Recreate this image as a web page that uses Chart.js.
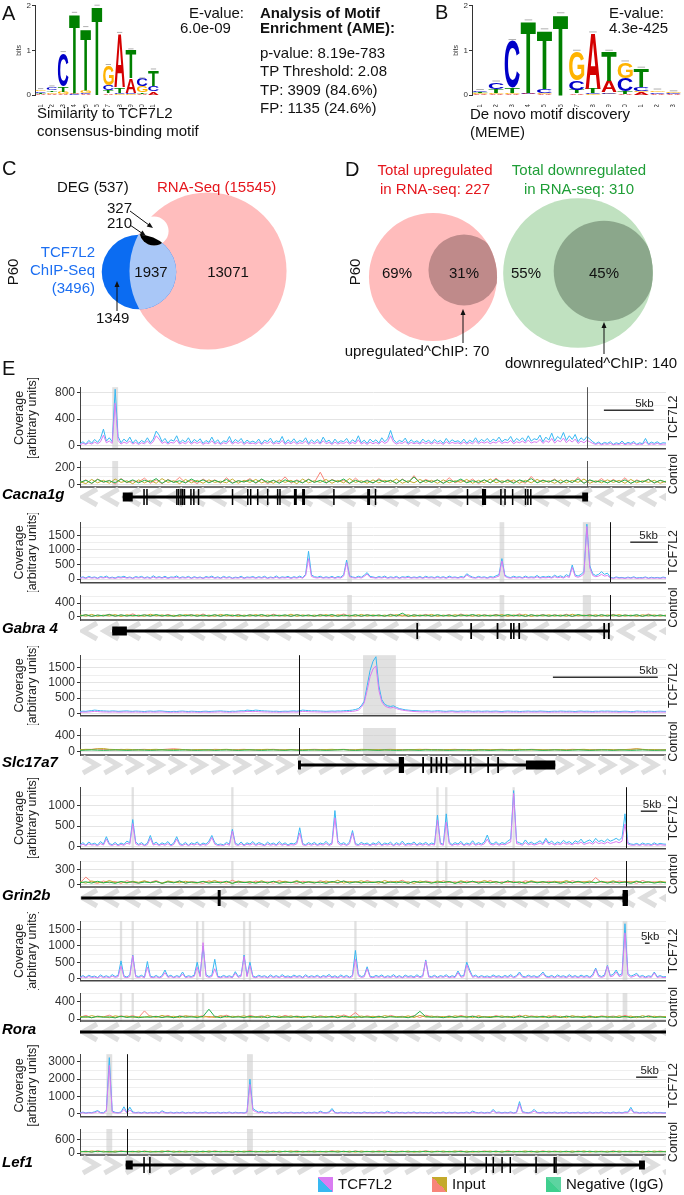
<!DOCTYPE html>
<html>
<head>
<meta charset="utf-8">
<script src="https://cdn.jsdelivr.net/npm/chart.js@4.4.0/dist/chart.umd.min.js"></script>
<style>
body { margin:0; background:#fff; width:684px; height:1195px; position:relative; overflow:hidden;
       font-family:"Liberation Sans", Arial, Helvetica, sans-serif; color:#111; }
.t { position:absolute; white-space:nowrap; line-height:1; }
canvas { position:absolute; }
</style>
</head>
<body>
<script>
// ---------- motif logos (bits per letter, bottom to top) ----------
var posA = ['1','2','3','4','5','6','7','8','9','10','11'];
var motifA = [
  [['A',0.02],['T',0.03],['C',0.03],['G',0.03]],
  [['A',0.03],['G',0.04],['T',0.04],['C',0.06]],
  [['A',0.02],['G',0.05],['T',0.12],['C',0.75]],
  [['C',0.02],['A',0.02],['T',1.78]],
  [['A',0.02],['C',0.03],['G',0.07],['T',1.38]],
  [['T',1.98]],
  [['A',0.04],['T',0.06],['C',0.12],['G',0.43]],
  [['G',0.02],['C',0.03],['T',0.12],['A',1.2]],
  [['G',0.02],['C',0.02],['A',0.33],['T',0.63]],
  [['A',0.03],['T',0.03],['G',0.13],['C',0.16]],
  [['A',0.08],['C',0.12],['T',0.35]]
];
var posB = ['1','2','3','4','5','6','7','8','9','10','11','12','13'];
var motifB = [
  [['A',0.02],['G',0.02],['T',0.02],['C',0.03]],
  [['A',0.02],['G',0.03],['T',0.08],['C',0.15]],
  [['A',0.02],['G',0.02],['T',0.12],['C',1.05]],
  [['C',0.03],['A',0.02],['T',1.6]],
  [['A',0.02],['G',0.03],['C',0.08],['T',1.32]],
  [['A',0.01],['T',1.8]],
  [['A',0.04],['T',0.08],['C',0.2],['G',0.65]],
  [['G',0.02],['C',0.02],['T',0.1],['A',1.24]],
  [['G',0.03],['C',0.03],['A',0.25],['T',0.66]],
  [['A',0.03],['T',0.05],['C',0.3],['G',0.35]],
  [['A',0.06],['G',0.03],['C',0.1],['T',0.4]],
  [['A',0.03],['C',0.03],['G',0.04]],
  [['A',0.02],['C',0.02],['G',0.02]]
];

// ---------- venn diagrams ----------
var vennCCounts = [15545, 3496, 537];          // RNA-Seq, ChIP-Seq, DEG
var vennCCenters = [[208,271],[139,272],[154,231]];
var vennDCounts = [227, 70, 310, 140];         // up, up^ChIP, down, down^ChIP
var vennDCenters = [[433,277],[464,270],[578,273],[604,271]];

// ---------- coverage tracks: TCF7L2 every 0.5 % of region, controls every 1 % ----------
var cacna1gTcf1 = [
  30,60,25,80,40,95,50,110,250,70,120,60,850,140,45,100,60,130,40,90,
  35,80,50,120,45,100,220,160,60,110,40,90,70,150,45,85,55,120,40,95,
  60,105,35,80,50,130,45,90,30,75,55,140,40,95,60,110,35,85,50,70,
  45,100,30,85,60,115,40,75,55,140,35,90,50,105,45,80,60,120,35,90,
  50,95,40,130,55,85,30,100,45,75,60,110,40,90,55,150,45,85,35,100,
  55,90,40,120,60,105,230,95,45,80,60,115,35,90,50,75,40,100,55,85,
  40,95,55,80,35,110,50,90,60,75,45,100,40,85,55,120,50,95,65,110,
  55,100,70,130,60,95,80,140,55,110,75,120,65,150,70,105,90,160,60,130,
  85,190,70,140,100,200,80,150,95,170,60,120,80,140,100,60,30,55,25,50,
  35,60,20,45,30,70,25,50,35,65,20,45,30,110,25,55,35,60,30,45,
  40];
var cacna1gTcf2 = [
  15,35,20,45,25,55,30,60,160,45,70,35,640,80,25,55,35,70,25,50,
  20,45,30,70,25,60,150,100,35,60,25,50,40,85,25,50,30,65,25,55,
  35,60,20,45,30,75,25,50,20,45,30,80,25,55,35,60,20,50,30,40,
  25,55,20,50,35,65,25,45,30,80,20,50,30,60,25,45,35,70,20,50,
  30,55,25,75,30,50,20,55,25,45,35,60,25,50,30,90,25,50,20,55,
  30,50,25,70,35,60,150,55,25,45,35,65,20,50,30,45,25,55,30,50,
  25,55,30,45,20,60,30,50,35,45,25,55,25,50,30,70,30,55,40,60,
  30,55,40,75,35,55,45,80,30,60,45,70,40,85,40,60,50,95,35,75,
  50,110,40,80,60,115,45,90,55,100,35,70,45,80,60,35,20,35,15,30,
  20,35,15,25,20,40,15,30,20,40,15,25,20,60,15,30,20,35,20,25,
  25];
var cacna1gInput1 = [
  20,60,15,70,30,55,10,75,25,50, 35,80,20,60,15,65,30,90,25,55,
  15,70,30,60,20,85,25,50,35,75, 20,65,15,55,30,95,20,60,25,70,
  30,150,20,65,35,55,15,80,25,60, 20,75,30,55,15,70,25,110,20,65,
  35,60,20,85,25,55,30,70,15,60, 25,80,20,65,30,55,20,100,25,60,
  30,70,15,60,25,90,20,55,30,75, 20,65,25,85,15,60,30,70,20,55, 30];
var cacna1gInput2 = [
  40,15,65,25,55,20,70,30,50,15, 60,25,55,20,75,30,50,15,65,25,
  55,20,60,30,45,25,70,20,55,30, 65,25,50,20,60,30,55,15,70,25,
  50,30,65,20,55,25,75,30,50,20, 60,25,55,30,70,20,50,25,65,30,
  55,20,60,25,50,30,65,20,55,25, 70,25,50,30,60,20,55,25,65,30,
  50,20,60,25,55,30,70,20,50,25, 60,30,55,20,65,25,50,30,55,20, 45];
var cacna1gIgG = [
  30,55,20,65,35,50,25,70,30,60, 25,55,35,75,20,60,30,50,25,70,
  35,60,25,55,30,65,20,50,35,60, 25,70,30,55,20,60,35,50,25,65,
  30,55,25,60,35,70,20,55,30,50, 25,60,35,55,20,65,30,95,25,55,
  30,60,20,55,35,70,25,50,30,60, 25,65,30,55,20,60,35,75,25,55,
  35,60,25,55,30,70,20,60,35,50, 25,55,30,60,20,50,35,65,25,55, 35];

var gabra4Tcf1 = [
  40,75,35,90,50,70,30,85,55,100,40,65,35,80,60,95,45,70,30,85,
  55,90,40,75,35,110,50,80,45,95,35,70,60,105,40,75,50,90,35,80,
  45,70,30,85,55,100,40,75,35,90,50,80,30,65,45,95,35,70,55,85,
  40,80,50,95,35,70,45,105,40,75,55,90,35,80,50,100,45,160,950,140,
  80,60,95,45,75,50,90,40,85,60,150,650,110,70,50,95,60,130,220,90,
  70,45,85,55,100,40,75,50,90,35,80,60,95,45,70,50,85,40,95,55,
  75,45,90,50,80,40,100,55,70,45,85,60,180,110,65,45,90,55,75,40,
  85,60,110,150,700,130,70,50,95,60,80,45,100,55,75,60,120,50,85,65,
  95,55,130,70,110,60,150,90,480,140,100,160,250,1880,450,180,120,160,250,160,
  200,60,35,70,45,55,30,65,40,75,35,50,45,70,30,60,40,55,35,65,
  45];
var gabra4Tcf2 = [
  25,45,20,55,30,45,20,50,35,60,25,40,20,50,35,55,30,45,20,50,
  35,55,25,45,20,65,30,50,30,55,20,45,35,60,25,45,30,55,20,50,
  30,45,20,50,35,60,25,45,20,55,30,50,20,40,30,55,20,45,35,50,
  25,50,30,55,20,45,30,60,25,45,35,55,20,50,30,60,30,120,700,90,
  50,35,55,30,45,30,55,25,50,35,100,560,80,45,30,55,35,90,170,55,
  45,30,50,35,60,25,45,30,55,20,50,35,55,30,45,30,50,25,55,35,
  45,30,55,30,50,25,60,35,45,30,50,35,140,70,40,30,55,35,45,25,
  50,35,65,100,620,90,45,30,55,35,50,30,60,35,45,35,75,30,50,40,
  55,35,80,45,65,35,90,55,400,90,60,100,180,1800,380,120,80,100,160,100,
  120,35,20,45,25,35,20,40,25,45,20,30,25,45,20,35,25,35,20,40,
  25];
var gabra4Input1 = [
  20,70,15,55,30,80,20,60,25,90, 15,65,30,55,20,75,25,50,35,70,
  20,85,15,60,30,55,20,75,25,65, 30,60,15,80,25,55,20,70,30,60,
  15,75,25,55,30,85,20,60,15,70, 25,60,20,80,30,55,15,65,25,75,
  20,55,30,70,15,85,25,60,20,65, 30,75,20,55,25,90,15,60,30,70,
  20,65,25,80,15,55,30,70,20,60, 25,75,15,60,30,55,20,85,25,60, 30];
var gabra4Input2 = [
  60,25,75,20,55,30,70,15,65,25, 55,20,80,30,60,25,50,20,70,30,
  65,25,55,20,75,30,60,15,55,25, 70,20,60,30,55,25,80,20,60,30,
  55,25,70,15,65,30,55,20,75,25, 60,30,55,20,70,25,65,15,60,30,
  75,20,55,25,65,30,60,20,70,25, 55,30,70,20,60,25,75,15,55,30,
  65,25,60,20,80,30,55,25,65,20, 60,30,70,25,55,20,65,30,60,25, 55];
var gabra4IgG = [
  30,65,20,55,35,70,25,60,30,50, 35,60,25,70,30,55,20,65,35,60,
  25,55,30,65,20,70,35,55,25,60, 30,70,25,55,35,60,20,65,30,55,
  25,60,35,70,20,55,30,65,25,60, 35,55,25,65,30,110,20,60,35,55,
  25,65,30,55,20,60,35,70,25,55, 30,60,25,70,35,55,20,65,30,60,
  25,55,30,60,20,70,35,55,25,65, 30,60,25,55,35,65,20,60,30,55, 30];

var slc17a7Tcf1 = [
  65,75,70,85,95,110,100,90,85,80,75,85,80,70,75,80,85,75,70,80,
  75,70,65,75,80,70,75,85,80,70,65,60,70,65,75,80,70,65,75,70,
  65,60,70,75,65,70,75,80,85,75,70,65,75,70,80,90,85,110,100,95,
  110,100,90,85,80,75,70,75,65,70,75,70,80,85,75,90,110,100,95,85,
  90,85,80,75,70,75,80,75,85,80,90,95,100,110,130,160,250,400,900,1400,
  1700,1850,900,450,300,250,230,250,200,160,140,120,110,100,95,90,85,80,90,85,
  75,80,90,85,75,70,80,85,75,70,80,75,85,80,70,75,80,70,75,80,
  70,75,80,70,65,75,80,75,70,75,65,70,75,80,70,75,70,80,75,70,
  65,70,75,70,80,75,70,75,70,65,75,80,70,75,70,65,75,70,80,75,
  80,75,70,75,65,70,75,70,60,65,80,75,70,65,75,70,65,70,75,70,
  70];
var slc17a7Tcf2 = [
  40,45,45,50,60,70,65,55,50,50,45,50,50,45,45,50,50,45,45,50,
  45,45,40,45,50,45,45,50,50,45,40,40,45,40,45,50,45,40,45,45,
  40,40,45,45,40,45,45,50,55,45,45,40,45,45,50,55,55,70,65,60,
  65,60,55,50,50,45,45,45,40,45,45,45,50,50,45,55,70,65,60,55,
  55,50,50,45,45,45,50,45,50,50,55,60,65,70,85,110,200,350,750,1200,
  1450,1550,750,380,250,200,180,200,160,130,110,95,85,75,65,60,55,50,55,55,
  45,50,55,50,45,45,50,55,45,45,50,45,50,50,45,45,50,45,45,50,
  45,45,50,45,40,45,50,45,45,45,40,45,45,50,45,45,45,50,45,45,
  40,45,45,45,50,45,45,45,45,40,45,50,45,45,45,40,45,45,50,45,
  50,45,45,45,40,45,45,45,40,40,50,45,45,40,45,45,40,45,45,45,
  45];
var slc17a7Input1 = [
  40,55,60,70,55,50,45,60,50,45, 55,60,50,45,55,65,75,60,50,45,
  50,55,45,60,55,50,45,55,60,50, 45,50,55,60,50,45,55,50,45,55,
  60,55,50,45,55,60,50,45,50,55, 50,45,55,60,50,55,45,50,55,60,
  55,50,45,55,60,50,55,45,50,55, 45,55,60,50,45,55,50,60,55,45,
  50,55,45,50,60,55,50,45,55,50, 55,45,50,55,60,70,55,50,45,50, 45];
var slc17a7Input2 = [
  50,60,55,75,80,60,55,50,60,55, 45,50,55,60,50,45,55,60,50,45,
  55,50,45,50,55,60,50,45,55,50, 50,55,60,50,45,50,55,45,50,55,
  45,50,55,60,50,55,45,50,60,55, 50,55,45,50,55,45,50,55,60,50,
  55,45,50,55,50,45,55,50,45,55, 50,55,45,50,55,60,50,45,55,50,
  45,50,55,45,50,55,60,50,45,50, 55,50,45,55,60,75,60,50,55,45, 50];
var slc17a7IgG = [
  35,40,45,40,35,40,45,40,35,40, 45,40,35,40,45,40,35,40,45,40,
  35,40,45,35,40,45,40,35,40,45, 40,35,40,45,40,35,45,40,35,40,
  45,40,35,40,45,50,40,35,40,45, 40,35,45,40,35,40,45,40,35,45,
  40,45,40,35,40,45,40,35,45,40, 35,40,45,40,35,40,45,50,40,35,
  40,45,40,35,40,45,40,35,40,45, 40,35,45,40,35,40,45,40,35,40, 40];

var grin2bTcf1 = [
  40,95,30,110,55,80,35,120,60,240,70,45,100,35,85,50,130,90,660,110,
  50,95,35,80,270,60,105,40,90,55,120,35,85,240,70,45,100,30,90,60,
  110,40,85,55,130,270,95,45,60,40,100,55,420,80,45,110,35,90,60,120,
  45,95,70,35,105,55,85,40,120,50,90,35,80,60,110,460,70,40,95,55,
  100,40,85,60,125,45,90,880,140,55,95,40,110,390,70,45,100,60,85,35,
  90,55,120,40,85,60,105,35,95,50,130,45,80,60,110,40,90,55,100,45,
  85,60,770,90,50,800,110,45,95,60,125,40,85,55,140,50,95,60,110,280,
  90,60,115,50,95,70,130,180,1370,120,90,55,160,70,110,60,95,140,75,200,
  85,130,60,110,75,150,90,120,65,140,100,180,85,130,160,95,200,120,150,110,
  180,130,160,200,150,220,800,90,60,50,75,40,85,55,70,45,90,50,75,60,
  55];
var grin2bTcf2 = [
  25,55,20,65,35,45,20,70,35,180,45,25,60,20,50,30,80,55,560,65,
  30,55,20,45,200,35,60,25,55,30,70,20,50,180,40,25,60,20,55,35,
  65,25,50,30,80,220,55,25,35,25,60,30,380,45,25,65,20,55,35,70,
  25,55,40,20,60,30,50,25,70,30,55,20,45,35,65,330,40,25,55,30,
  60,25,50,35,75,25,55,700,80,30,55,25,65,330,40,25,60,35,50,20,
  55,30,70,25,50,35,60,20,55,30,75,25,45,35,65,25,55,30,60,25,
  50,35,650,55,30,600,65,25,55,35,75,25,50,30,80,30,55,35,65,180,
  55,35,70,30,55,40,80,110,1300,70,55,30,95,40,65,35,55,85,45,150,
  50,75,35,65,45,90,55,70,40,85,60,110,50,75,95,55,120,70,90,65,
  110,75,95,120,90,130,550,55,35,30,45,25,50,30,40,25,55,30,45,35,
  30];
var grin2bInput1 = [
  40,150,55,30,75,40,65,30,80,45, 35,70,50,85,30,60,45,75,35,65,
  50,30,80,45,65,35,90,40,60,30, 75,45,60,35,85,40,55,30,70,50,
  35,80,45,65,30,75,50,60,35,85, 45,60,30,70,50,90,35,65,40,75,
  55,35,80,45,60,30,75,50,65,40, 85,35,60,45,70,30,80,50,55,40,
  70,45,65,30,80,50,60,35,140,45, 60,35,75,50,65,30,85,45,60,40, 55];
var grin2bInput2 = [
  60,35,75,50,40,85,45,60,35,70, 50,80,40,65,35,75,55,40,70,45,
  35,70,50,85,40,60,30,75,45,65, 40,80,35,65,50,70,40,85,35,60,
  55,40,75,45,90,35,65,50,80,40, 60,35,85,45,70,40,60,30,75,50,
  40,75,50,65,35,80,45,70,40,85, 50,65,35,75,45,60,40,80,50,65,
  35,70,45,85,40,60,55,75,35,70, 45,80,40,65,50,75,35,60,45,70, 50];
var grin2bIgG = [
  45,60,35,70,40,55,30,65,45,60, 35,55,45,65,30,60,40,75,35,55,
  45,65,35,55,40,70,30,60,45,55, 35,60,40,70,30,55,45,65,35,60,
  40,55,30,65,45,75,35,60,40,55, 45,65,35,55,40,60,30,70,45,60,
  35,55,45,65,30,60,40,70,35,55, 40,60,35,75,45,55,30,65,40,60,
  45,55,30,60,40,70,35,55,45,65, 35,60,40,55,30,65,45,60,35,55, 40];

var roraTcf1 = [
  40,90,35,100,55,75,30,110,50,85,40,120,60,95,540,80,45,110,720,90,
  55,100,40,520,70,45,95,35,85,260,60,100,40,90,55,200,45,85,60,105,
  500,90,1000,120,60,100,590,70,45,95,55,85,40,210,65,110,720,90,500,75,
  45,100,60,85,35,110,50,90,40,120,55,80,45,105,60,90,35,115,50,85,
  55,100,40,90,60,125,45,85,35,110,55,95,40,100,860,130,60,85,360,70,
  45,95,60,110,40,85,55,120,45,90,35,105,60,85,45,115,50,95,570,80,
  55,100,40,90,60,115,45,85,55,230,70,95,500,260,60,105,45,90,55,80,
  45,110,60,85,40,95,55,120,45,90,200,70,50,105,60,85,45,100,200,75,
  55,95,40,110,60,85,45,120,55,90,40,105,60,95,45,130,320,100,60,110,
  400,90,130,260,100,150,1680,160,70,110,160,60,95,45,85,60,200,55,90,50,
  60];
var roraTcf2 = [
  20,55,20,60,30,45,20,65,30,50,25,70,35,55,380,45,25,60,700,50,
  30,60,25,350,40,25,55,20,50,180,35,60,25,55,30,140,25,50,35,65,
  350,50,1100,70,35,60,300,40,25,55,30,50,25,160,35,65,680,55,400,45,
  25,60,35,50,20,65,30,55,25,70,30,45,25,60,35,55,20,70,30,50,
  35,60,25,55,35,75,25,50,20,65,30,55,25,60,600,80,35,50,300,40,
  25,55,35,65,25,50,30,70,25,55,20,60,35,50,25,70,30,55,540,45,
  30,60,25,55,35,70,25,50,30,180,40,55,420,200,35,65,25,55,30,45,
  25,65,35,50,25,55,30,70,25,55,150,40,30,60,35,50,25,60,150,45,
  30,55,25,65,35,50,25,70,30,55,25,60,35,55,25,75,280,60,35,65,
  380,55,80,200,60,90,1400,110,40,65,110,35,55,25,50,35,170,30,55,30,
  35];
var roraInput1 = [
  40,85,30,70,50,90,35,75,45,80, 35,190,50,65,40,85,30,75,55,70,
  45,80,35,65,50,90,40,70,30,85, 50,75,40,60,35,85,45,70,50,65,
  35,80,45,70,40,95,50,150,35,75, 45,70,30,85,50,65,40,80,35,90,
  50,65,40,75,35,85,45,70,50,60, 35,80,45,65,40,90,30,75,50,70,
  45,85,35,70,50,65,40,80,35,75, 50,70,40,85,45,60,35,80,50,65, 45];
var roraInput2 = [
  65,35,80,45,60,30,75,50,70,40, 55,40,75,35,85,45,65,30,80,50,
  70,45,60,35,80,40,65,50,75,35, 60,30,85,45,70,40,75,35,65,50,
  75,40,65,35,80,45,60,30,70,45, 65,35,80,50,60,40,75,35,85,45,
  70,40,60,35,75,50,65,30,80,40, 60,45,75,35,70,40,85,50,65,35,
  75,40,65,30,80,45,70,35,60,50, 65,35,75,45,70,30,80,40,65,45, 60];
var roraIgG = [
  35,55,30,60,40,50,25,65,35,55, 30,50,40,60,35,55,30,65,40,50,
  35,60,230,55,30,65,40,50,35,60, 40,55,30,65,35,50,40,60,30,55,
  35,50,40,60,30,65,35,55,40,50, 30,60,35,55,40,50,30,65,180,55,
  40,50,30,60,35,55,40,65,30,50, 35,60,40,55,30,65,35,50,40,60,
  30,55,35,65,40,50,30,60,35,55, 40,50,35,60,30,55,40,65,35,50, 35];

var lef1Tcf1 = [
  50,90,40,75,60,110,180,70,55,200,3250,150,80,60,95,400,70,380,100,65,
  85,50,100,45,80,60,95,40,170,75,55,90,45,85,60,100,40,80,55,95,
  50,85,60,100,40,75,55,90,45,80,60,95,40,85,55,70,45,110,2000,300,
  180,90,150,60,95,45,80,55,100,40,85,60,90,45,75,55,100,40,85,60,
  95,45,150,70,55,100,300,80,45,90,60,85,40,95,55,75,45,100,60,80,
  45,90,60,100,55,150,70,45,95,60,80,40,90,55,100,45,85,60,75,50,
  95,40,80,60,100,45,85,55,90,40,75,60,95,45,150,80,55,90,45,80,
  60,250,70,95,50,85,60,100,45,90,700,120,75,55,95,250,80,60,100,45,
  85,60,95,40,80,55,100,45,75,60,90,40,85,55,95,45,80,60,100,50,
  80,45,95,60,85,50,100,90,370,80,90,45,80,55,95,40,85,60,75,50,
  60];
var lef1Tcf2 = [
  30,55,25,45,35,65,120,40,30,130,2800,90,50,35,60,250,40,220,55,40,
  50,30,60,25,50,35,55,25,110,45,35,55,25,50,35,60,25,50,35,55,
  30,50,35,60,25,45,35,55,25,50,35,60,25,50,35,45,25,65,1700,200,
  110,55,90,35,55,25,50,35,60,25,50,35,55,25,45,35,60,25,50,35,
  55,25,90,40,35,60,200,50,25,55,35,50,25,55,35,45,25,60,35,50,
  25,55,35,60,30,90,40,25,55,35,50,25,55,35,60,25,50,35,45,30,
  55,25,50,35,60,25,50,30,55,25,45,35,55,25,90,50,30,55,25,50,
  35,160,40,55,30,50,35,60,25,55,550,70,45,30,55,150,50,35,60,25,
  50,35,55,25,50,30,60,25,45,35,55,25,50,30,55,25,50,35,60,30,
  50,25,55,35,50,30,60,55,250,50,55,25,50,30,55,25,50,35,45,30,
  35];
var lef1Input1 = [
  50,90,40,110,55,80,45,100,60,85, 45,95,55,80,40,105,50,90,45,85,
  60,80,45,100,55,90,40,85,50,110, 45,85,55,95,40,80,60,100,45,90,
  55,80,45,105,50,85,40,95,55,80, 45,100,50,85,60,90,40,80,55,105,
  50,90,45,80,55,100,40,85,50,95, 60,85,45,105,50,80,55,90,40,100,
  45,90,55,85,40,95,50,80,60,85, 50,100,45,80,55,90,40,85,50,95, 55];
var lef1Input2 = [
  80,45,95,55,85,40,90,60,80,45, 90,50,80,45,95,55,85,40,90,50,
  85,40,95,50,80,55,90,45,85,60, 80,50,90,45,85,55,95,40,80,50,
  90,45,80,55,95,50,85,40,90,55, 85,50,95,45,80,55,90,40,85,50,
  80,55,90,45,95,50,85,40,80,55, 90,45,85,50,80,55,95,45,85,50,
  85,55,80,45,90,50,95,40,85,55, 80,45,90,55,85,50,80,45,90,50, 80];
var lef1IgG = [
  55,70,45,80,50,65,45,75,55,70, 50,75,45,65,55,80,45,70,50,65,
  45,80,50,70,55,65,45,75,50,70, 55,65,45,75,50,80,45,70,55,65,
  50,70,55,65,45,75,50,80,45,70, 55,65,50,75,45,70,55,65,50,80,
  45,70,55,65,50,75,45,70,55,65, 50,80,45,70,55,65,50,75,45,70,
  55,65,50,75,45,70,55,80,50,65, 45,75,50,65,55,70,45,75,50,65, 55];

// highlighted peaks, TSS line, gene models (all in % of region)
var cacna1gBands = [[5.5,6.5]];
var gabra4Bands = [[45.6,46.4],[71.6,72.4],[85.8,87.2]];
var slc17a7Bands = [[48.3,53.9]];
var grin2bBands = [[8.8,9.2],[25.8,26.2],[60.8,61.2],[62.3,62.7],[73.8,74.2]];
var roraBands = [[6.8,7.2],[8.8,9.2],[19.8,20.2],[20.8,21.2],[27.8,28.2],[28.8,29.2],[46.8,47.2],[65.8,66.2],[89.8,90.2],[92.6,93.4]];
var lef1Bands = [[4.5,5.5],[28.5,29.5]];
var tssPos = [86.5, 90.4, 37.4, 93.2, null, 8.0];

var cacna1gSpan = [7.3, 86.7];
var cacna1gUtr = [[7.3,9.0],[85.7,86.7]];
var cacna1gExons = [[10.8,11.0],[11.3,11.5],[16.4,16.6],[16.7,16.9],[17.1,17.3],[17.4,17.6],[17.7,17.9],
  [18.8,19.0],[19.3,19.5],[20.1,20.3],[25.9,26.1],[28.5,28.7],[29.0,29.2],[30.2,30.4],[31.9,32.1],
  [33.6,33.8],[34.0,34.2],[36.5,37.0],[37.9,38.4],[43.2,43.4],[49.0,49.5],[50.3,50.5],[66.0,66.2],
  [68.6,69.3],[71.7,71.9],[72.4,72.6],[73.7,73.9],[75.9,76.1],[76.3,76.5],[76.8,77.0]];
var gabra4Span = [5.5, 90.4];
var gabra4Utr = [[5.5,8.0]];
var gabra4Exons = [[57.4,57.7],[66.6,66.9],[71.1,71.4],[73.4,73.7],[73.9,74.1],[74.8,75.1],[89.3,89.6],[90.1,90.4]];
var slc17a7Span = [37.4, 81.1];
var slc17a7Utr = [[37.2,37.7],[76.1,81.1]];
var slc17a7Exons = [[54.4,55.3],[58.4,58.7],[59.8,60.1],[60.7,61.0],[61.5,61.8],[62.4,62.7],[65.6,65.9],[66.5,66.8],[69.5,69.8],[71.2,71.5]];
var grin2bSpan = [0.2, 93.5];
var grin2bUtr = [[92.6,93.5]];
var grin2bExons = [[23.5,24.0],[92.6,93.5]];
var roraSpan = [0, 100];
var roraUtr = [];
var roraExons = [];
var lef1Span = [7.8, 96.4];
var lef1Utr = [[7.8,9.0],[95.4,96.4]];
var lef1Exons = [[10.8,11.0],[11.8,12.0],[65.6,65.8],[69.2,69.4],[70.4,70.6],[71.9,72.1],[73.3,73.5],[77.7,77.9],[80.8,81.0],[81.1,81.3]];
var strand = [-1, -1, 1, -1, -1, 1];
var kbBar = [[89.4,97.9],[93.9,98.6],[80.7,98.6],[95.7,98.5],[96.4,97.2],[94.9,98.5]];

var geneNames = ['Cacna1g', 'Gabra 4', 'Slc17a7', 'Grin2b', 'Rora', 'Lef1'];
var tcfMin = [-46, -130, -75, -57, -70, -180];
var tcfMax = [881, 1947, 1900, 1453, 1757, 3448];
var tcfMajor = [400, 500, 500, 500, 500, 1000];
var ctrlMin = [-24, -86, -80, -40, -47, -86];
var ctrlMax = [282, 630, 587, 460, 611, 1071];
var ctrlMajor = [200, 400, 400, 300, 400, 600];

// layout (page px)
var tcfTop = [378, 513, 646, 778, 912, 1045];
var tcfBot = [458, 592, 725, 858, 990, 1126];
var ctrlTop = [461, 595, 728, 861, 993, 1129];
var ctrlBot = [487, 620, 755, 887, 1021, 1155];
var geneY = [497, 631, 765, 898, 1032, 1165];
var kbY = [23, 20, 22, 24, 22, 23];

var tracks = [
  {tcf:[cacna1gTcf1,cacna1gTcf2], ctrl:[cacna1gInput1,cacna1gInput2,cacna1gIgG], bands:cacna1gBands, span:cacna1gSpan, utr:cacna1gUtr, exons:cacna1gExons},
  {tcf:[gabra4Tcf1,gabra4Tcf2], ctrl:[gabra4Input1,gabra4Input2,gabra4IgG], bands:gabra4Bands, span:gabra4Span, utr:gabra4Utr, exons:gabra4Exons},
  {tcf:[slc17a7Tcf1,slc17a7Tcf2], ctrl:[slc17a7Input1,slc17a7Input2,slc17a7IgG], bands:slc17a7Bands, span:slc17a7Span, utr:slc17a7Utr, exons:slc17a7Exons},
  {tcf:[grin2bTcf1,grin2bTcf2], ctrl:[grin2bInput1,grin2bInput2,grin2bIgG], bands:grin2bBands, span:grin2bSpan, utr:grin2bUtr, exons:grin2bExons},
  {tcf:[roraTcf1,roraTcf2], ctrl:[roraInput1,roraInput2,roraIgG], bands:roraBands, span:roraSpan, utr:roraUtr, exons:roraExons},
  {tcf:[lef1Tcf1,lef1Tcf2], ctrl:[lef1Input1,lef1Input2,lef1IgG], bands:lef1Bands, span:lef1Span, utr:lef1Utr, exons:lef1Exons}
];

var FONT = '"Liberation Sans", Arial, Helvetica, sans-serif';
Chart.defaults.font.family = FONT;
Chart.defaults.color = '#333';

var baseColors = {A:'#d40000', C:'#0000c8', G:'#ffb300', T:'#008000'};
var colTcf1 = '#38b8f2', colTcf2 = '#d97cf2';
var colInput1 = '#f8857a', colInput2 = '#c4aa2c', colIgG = '#22b14c';

function mk(left, top, w, h) {
  var c = document.createElement('canvas');
  c.width = w; c.height = h;
  c.style.left = left + 'px'; c.style.top = top + 'px';
  c.style.width = w + 'px'; c.style.height = h + 'px';
  document.body.appendChild(c);
  return c;
}

function txt(s, x, base, size, o) {
  o = o || {};
  var d = document.createElement('div');
  d.className = 't';
  d.textContent = s;
  d.style.fontSize = size + 'px';
  d.style.top = (base - 0.846 * size) + 'px';
  if (o.align == 'center') { d.style.left = x + 'px'; d.style.transform = 'translateX(-50%)'; }
  else if (o.align == 'right') { d.style.right = (684 - x) + 'px'; }
  else d.style.left = x + 'px';
  if (o.bold) d.style.fontWeight = 'bold';
  if (o.italic) d.style.fontStyle = 'italic';
  if (o.color) d.style.color = o.color;
  document.body.appendChild(d);
}

function rtxt(s, cx, cy, size) {
  var d = document.createElement('div');
  d.className = 't';
  d.textContent = s;
  d.style.fontSize = size + 'px';
  d.style.left = cx + 'px'; d.style.top = cy + 'px';
  d.style.transform = 'translate(-50%,-50%) rotate(-90deg)';
  document.body.appendChild(d);
}

// ---------- sequence logos ----------
function drawGlyph(ctx, L, x, y, w, h, color) {
  ctx.save();
  ctx.font = 'bold 100px ' + FONT;
  var m = ctx.measureText(L);
  var gw = m.actualBoundingBoxLeft + m.actualBoundingBoxRight;
  var gh = m.actualBoundingBoxAscent + m.actualBoundingBoxDescent;
  ctx.translate(x, y);
  ctx.scale(w / gw, h / gh);
  ctx.fillStyle = color;
  ctx.textBaseline = 'alphabetic';
  ctx.fillText(L, m.actualBoundingBoxLeft, m.actualBoundingBoxAscent);
  ctx.restore();
}

var letterPlugin = {
  id: 'letters',
  afterDatasetsDraw: function(chart) {
    var ctx = chart.ctx;
    var tops = [];
    chart.data.datasets.forEach(function(ds, d) {
      var meta = chart.getDatasetMeta(d);
      meta.data.forEach(function(el, j) {
        var L = ds.letters[j];
        if (!L) return;
        var p = el.getProps(['x', 'y', 'base', 'width'], true);
        var h = p.base - p.y;
        if (h <= 0) return;
        drawGlyph(ctx, L, p.x - p.width / 2, p.y, p.width, Math.max(h, 0.8), baseColors[L]);
        tops[j] = {x: p.x, y: p.y, w: p.width};
      });
    });
    // small grey caps on each stack
    ctx.save();
    ctx.strokeStyle = '#b0b0b0';
    ctx.lineWidth = 1;
    tops.forEach(function(t) {
      if (!t) return;
      ctx.beginPath();
      ctx.moveTo(t.x - t.w * 0.25, t.y - 1.5);
      ctx.lineTo(t.x + t.w * 0.25, t.y - 1.5);
      ctx.stroke();
    });
    ctx.restore();
  }
};

function logoChart(canvas, motif, labels, padRight) {
  var datasets = [];
  for (var k = 0; k < 4; k++) {
    datasets.push({
      data: motif.map(function(col) { return col[k] ? col[k][1] : 0; }),
      letters: motif.map(function(col) { return col[k] ? col[k][0] : ''; }),
      backgroundColor: 'rgba(0,0,0,0)', borderWidth: 0,
      barPercentage: 1, categoryPercentage: 0.94
    });
  }
  return new Chart(canvas, {
    type: 'bar',
    data: {labels: labels, datasets: datasets},
    options: {
      responsive: false, animation: false, events: [],
      layout: {padding: {top: 3, right: padRight, left: 0, bottom: 0}},
      plugins: {legend: {display: false}, tooltip: {enabled: false}},
      scales: {
        x: {stacked: true, grid: {display: false}, border: {display: false},
            ticks: {minRotation: 90, maxRotation: 90, autoSkip: false, font: {size: 7}, color: '#333', padding: 1},
            afterFit: function(s) { s.height = 12; }},
        y: {stacked: true, min: 0, max: 2,
            afterBuildTicks: function(s) { s.ticks = [{value: 0}, {value: 1}, {value: 2}]; },
            ticks: {font: {size: 8}, color: '#333', padding: 1},
            grid: {drawOnChartArea: false, tickLength: 3, color: '#333'},
            border: {display: true, color: '#333'},
            title: {display: true, text: 'bits', font: {size: 7}, padding: {top: 0, bottom: 0}, color: '#333'},
            afterFit: function(s) { s.width = 20; }}
      }
    },
    plugins: [letterPlugin]
  });
}

logoChart(mk(15, 0, 148, 107), motifA, posA, 2.5);
logoChart(mk(452, 0, 231, 107), motifB, posB, 1);

// ---------- venn diagrams ----------
function vennChart(canvas, x0, x1, y0, y1, ops, arrows) {
  return new Chart(canvas, {
    type: 'scatter',
    data: {datasets: []},
    options: {
      responsive: false, animation: false, events: [],
      layout: {padding: 0},
      plugins: {legend: {display: false}, tooltip: {enabled: false}},
      scales: {
        x: {type: 'linear', display: false, min: x0, max: x1},
        y: {type: 'linear', display: false, min: y0, max: y1, reverse: true}
      }
    },
    plugins: [{
      id: 'venn',
      afterDraw: function(ch) {
        var ctx = ch.ctx, xs = ch.scales.x, ys = ch.scales.y;
        function circ(c) {
          var x = xs.getPixelForValue(c.x), y = ys.getPixelForValue(c.y);
          var r = Math.abs(xs.getPixelForValue(c.x + c.r) - x);
          ctx.beginPath(); ctx.arc(x, y, r, 0, Math.PI * 2);
        }
        ops.forEach(function(op) {
          ctx.save();
          if (op.clip) { circ(op.clip); ctx.clip(); }
          circ(op.c); ctx.fillStyle = op.color; ctx.fill();
          ctx.restore();
        });
        ctx.save();
        ctx.strokeStyle = '#111'; ctx.fillStyle = '#111'; ctx.lineWidth = 1;
        arrows.forEach(function(a) {
          var ax = xs.getPixelForValue(a[0]), ay = ys.getPixelForValue(a[1]);
          var bx = xs.getPixelForValue(a[2]), by = ys.getPixelForValue(a[3]);
          var ang = Math.atan2(by - ay, bx - ax);
          ctx.beginPath(); ctx.moveTo(ax, ay); ctx.lineTo(bx - 4 * Math.cos(ang), by - 4 * Math.sin(ang)); ctx.stroke();
          ctx.beginPath();
          ctx.moveTo(bx, by);
          ctx.lineTo(bx - 6 * Math.cos(ang) + 2.5 * Math.sin(ang), by - 6 * Math.sin(ang) - 2.5 * Math.cos(ang));
          ctx.lineTo(bx - 6 * Math.cos(ang) - 2.5 * Math.sin(ang), by - 6 * Math.sin(ang) + 2.5 * Math.cos(ang));
          ctx.closePath(); ctx.fill();
        });
        ctx.restore();
      }
    }]
  });
}

var kC = 0.63, kD = 4.25;
var cSets = vennCCounts.map(function(n, i) { return {x: vennCCenters[i][0], y: vennCCenters[i][1], r: kC * Math.sqrt(n)}; });
var dSets = vennDCounts.map(function(n, i) { return {x: vennDCenters[i][0], y: vennDCenters[i][1], r: kD * Math.sqrt(n)}; });

vennChart(mk(0, 175, 342, 185), 0, 342, 175, 360, [
  {c: cSets[0], color: '#ffbdbd'},
  {c: cSets[1], color: '#0b6cf2'},
  {c: cSets[1], clip: cSets[0], color: '#a9c7f7'},
  {c: cSets[2], color: '#ffffff'},
  {c: cSets[2], clip: cSets[1], color: '#000000'}
], [[130, 211, 153, 228], [130, 225, 146, 236], [117, 311, 117, 281]]);

vennChart(mk(342, 175, 342, 185), 342, 684, 175, 360, [
  {c: dSets[0], color: '#ffbcbc'},
  {c: dSets[1], clip: dSets[0], color: '#bf8a8a'},
  {c: dSets[2], color: '#c0e1c0'},
  {c: dSets[3], clip: dSets[2], color: '#8ba78b'}
], [[463, 343, 463, 309], [604, 354, 604, 322]]);

// ---------- coverage tracks ----------
function toXY(arr, step) {
  return arr.map(function(v, i) { return {x: i * step, y: v}; });
}

function trackOptions(min, max, major, withTitle, padTop, padBottom) {
  return {
    responsive: false, animation: false, events: [],
    layout: {padding: {top: padTop, bottom: padBottom, right: 18, left: 0}},
    elements: {point: {radius: 0}, line: {borderWidth: 1, tension: 0}},
    plugins: {legend: {display: false}, tooltip: {enabled: false}},
    scales: {
      x: {type: 'linear', min: 0, max: 100, display: false},
      y: {
        min: min, max: max,
        afterBuildTicks: function(s) {
          var t = [];
          for (var v = 0; v <= max; v += major / 2) t.push({value: v});
          s.ticks = t;
        },
        afterFit: function(s) { s.width = 80; },
        ticks: {autoSkip: false, font: {size: 12}, color: '#333', padding: 2,
                callback: function(v) { return v % major === 0 ? v : ''; }},
        grid: {tickLength: 3,
               color: function(c) { return c.tick && c.tick.value % major === 0 ? '#e4e4e4' : '#efefef'; },
               tickColor: function(c) { return c.tick && c.tick.value % major === 0 ? '#333' : 'rgba(0,0,0,0)'; }},
        border: {display: true, color: '#444'},
        title: withTitle ? {display: true, text: ['Coverage', '[arbitrary units]'], color: '#222',
                            font: {size: 12.5, lineHeight: 1.05}, padding: {top: 13, bottom: 0}} : {display: false}
      }
    }
  };
}

function decoPlugin(i, label, isCtrl, offTop) {
  var T = tracks[i];
  return {
    id: 'deco',
    beforeDatasetsDraw: function(ch) {
      var ctx = ch.ctx, xs = ch.scales.x, a = ch.chartArea;
      ctx.save();
      ctx.fillStyle = 'rgba(205,205,205,0.6)';
      T.bands.forEach(function(b) {
        var x1 = xs.getPixelForValue(b[0]), x2 = xs.getPixelForValue(b[1]);
        ctx.fillRect(x1, a.top, x2 - x1, a.bottom - a.top);
      });
      ctx.restore();
    },
    afterDatasetsDraw: function(ch) {
      var ctx = ch.ctx, xs = ch.scales.x, a = ch.chartArea;
      ctx.save();
      if (tssPos[i] !== null) {
        var tx = Math.round(xs.getPixelForValue(tssPos[i])) + 0.5;
        ctx.strokeStyle = i === 0 ? '#555' : '#111'; ctx.lineWidth = 1;
        ctx.beginPath(); ctx.moveTo(tx, a.top); ctx.lineTo(tx, a.bottom); ctx.stroke();
      }
      ctx.strokeStyle = '#444'; ctx.lineWidth = 1.4;
      ctx.beginPath(); ctx.moveTo(a.left, a.bottom); ctx.lineTo(a.right, a.bottom); ctx.stroke();
      ctx.restore();
    },
    afterDraw: function(ch) {
      var ctx = ch.ctx, xs = ch.scales.x, a = ch.chartArea;
      ctx.save();
      ctx.translate(a.right + 8, (a.top + a.bottom) / 2);
      ctx.rotate(-Math.PI / 2);
      ctx.font = '12.5px ' + FONT; ctx.fillStyle = '#222';
      ctx.textAlign = 'center'; ctx.textBaseline = 'middle';
      ctx.fillText(label, 0, 0);
      ctx.restore();
      if (!isCtrl) {
        var kb = kbBar[i];
        var k1 = xs.getPixelForValue(kb[0]), k2 = xs.getPixelForValue(kb[1]);
        var ky = a.top + kbY[i];
        ctx.save();
        ctx.strokeStyle = '#333'; ctx.lineWidth = 1.5;
        ctx.beginPath(); ctx.moveTo(k1, ky); ctx.lineTo(k2, ky); ctx.stroke();
        ctx.font = '11.5px ' + FONT; ctx.fillStyle = '#222'; ctx.textBaseline = 'alphabetic';
        if (k2 - k1 > 22) { ctx.textAlign = 'right'; ctx.fillText('5kb', k2, ky - 3); }
        else { ctx.textAlign = 'center'; ctx.fillText('5kb', (k1 + k2) / 2 + 3, ky - 3); }
        ctx.restore();
      } else {
        // gene model row: strand chevrons, intron line, UTRs, exons
        var gy = geneY[i] - offTop;
        var dir = strand[i] < 0 ? 1 : -1;
        ctx.save();
        ctx.beginPath(); ctx.rect(a.left, gy - 12, a.right - a.left, 24); ctx.clip();
        ctx.strokeStyle = '#dedede'; ctx.lineWidth = 5; ctx.lineJoin = 'miter';
        for (var cx = a.left + 10; cx < a.right + 12; cx += 21.5) {
          ctx.beginPath();
          ctx.moveTo(cx + 7 * dir, gy - 8);
          ctx.lineTo(cx - 7 * dir, gy);
          ctx.lineTo(cx + 7 * dir, gy + 8);
          ctx.stroke();
        }
        ctx.restore();
        ctx.save();
        ctx.fillStyle = '#000'; ctx.strokeStyle = '#000'; ctx.lineWidth = 3;
        var g1 = xs.getPixelForValue(T.span[0]), g2 = xs.getPixelForValue(T.span[1]);
        ctx.beginPath(); ctx.moveTo(g1, gy); ctx.lineTo(g2, gy); ctx.stroke();
        T.utr.forEach(function(u) {
          var u1 = xs.getPixelForValue(u[0]), u2 = xs.getPixelForValue(u[1]);
          ctx.fillRect(u1, gy - 4.5, Math.max(2, u2 - u1), 9);
        });
        T.exons.forEach(function(e) {
          var e1 = xs.getPixelForValue(e[0]), e2 = xs.getPixelForValue(e[1]);
          ctx.fillRect(e1, gy - 8, Math.max(1.5, e2 - e1), 16);
        });
        ctx.restore();
      }
    }
  };
}

tracks.forEach(function(T, i) {
  var h1 = tcfBot[i] - tcfTop[i];
  new Chart(mk(0, tcfTop[i], 684, h1), {
    type: 'line',
    data: {datasets: [
      {data: toXY(T.tcf[1], 0.5), borderColor: colTcf2, order: 0},
      {data: toXY(T.tcf[0], 0.5), borderColor: colTcf1, order: 1}
    ]},
    options: trackOptions(tcfMin[i], tcfMax[i], tcfMajor[i], true, 0, 0),
    plugins: [decoPlugin(i, 'TCF7L2', false, tcfTop[i])]
  });
  var cTop = ctrlTop[i] - 12;
  var cH = geneY[i] + 12 - cTop;
  new Chart(mk(0, cTop, 684, cH), {
    type: 'line',
    data: {datasets: [
      {data: toXY(T.ctrl[2], 1), borderColor: colIgG, order: 0},
      {data: toXY(T.ctrl[1], 1), borderColor: colInput2, order: 1},
      {data: toXY(T.ctrl[0], 1), borderColor: colInput1, order: 2}
    ]},
    options: trackOptions(ctrlMin[i], ctrlMax[i], ctrlMajor[i], false, 12, geneY[i] + 12 - ctrlBot[i]),
    plugins: [decoPlugin(i, 'Control', true, cTop)]
  });
  txt(geneNames[i], 2, geneY[i] + 2, 15, {bold: true, italic: true, color: '#000'});
});

// ---------- texts ----------
txt('A', 2, 19.5, 20);
txt('B', 435, 19, 20);
txt('C', 2, 175, 20);
txt('D', 345, 176, 20);
txt('E', 2, 375, 20);

txt('E-value:', 189, 18, 15);
txt('6.0e-09', 180, 33, 15);
txt('Analysis of Motif', 260, 18, 15, {bold: true});
txt('Enrichment (AME):', 260, 33, 15, {bold: true});
txt('p-value: 8.19e-783', 260, 57.5, 15);
txt('TP Threshold: 2.08', 260, 76, 15);
txt('TP: 3909 (84.6%)', 260, 94.5, 15);
txt('FP: 1135 (24.6%)', 260, 113, 15);
txt('Similarity to TCF7L2', 37, 118, 15);
txt('consensus-binding motif', 37, 135.5, 15);

txt('E-value:', 609, 18, 15);
txt('4.3e-425', 609, 33, 15);
txt('De novo motif discovery', 470, 119, 15);
txt('(MEME)', 470, 136.5, 15);

txt('DEG (537)', 57, 192, 15);
txt('RNA-Seq (15545)', 157, 192, 15, {color: '#e5161d'});
txt('327', 107, 213, 15);
txt('210', 107, 228, 15);
txt('TCF7L2', 95, 257, 15, {align: 'right', color: '#1c6ff2'});
txt('ChIP-Seq', 95, 275, 15, {align: 'right', color: '#1c6ff2'});
txt('(3496)', 95, 293, 15, {align: 'right', color: '#1c6ff2'});
txt('1937', 151, 277, 15, {align: 'center'});
txt('13071', 228, 277, 15, {align: 'center'});
txt('1349', 96, 323, 15);
rtxt('P60', 12, 272, 15);

txt('Total upregulated', 435, 175, 15, {align: 'center', color: '#e5161d'});
txt('in RNA-seq: 227', 435, 194, 15, {align: 'center', color: '#e5161d'});
txt('Total downregulated', 579, 175, 15, {align: 'center', color: '#1f9e37'});
txt('in RNA-seq: 310', 579, 194, 15, {align: 'center', color: '#1f9e37'});
txt('69%', 397, 278, 15, {align: 'center'});
txt('31%', 464, 278, 15, {align: 'center'});
txt('55%', 526, 278, 15, {align: 'center'});
txt('45%', 604, 278, 15, {align: 'center'});
txt('upregulated^ChIP: 70', 417, 356, 15, {align: 'center'});
txt('downregulated^ChIP: 140', 591, 368, 15, {align: 'center'});
rtxt('P60', 354, 272, 15);

// legend
function swatch(x, c1, c2) {
  var d = document.createElement('div');
  d.style.position = 'absolute';
  d.style.left = x + 'px'; d.style.top = '1177px';
  d.style.width = '15px'; d.style.height = '15px';
  d.style.background = 'linear-gradient(to top right, ' + c1 + ' 50%, ' + c2 + ' 50%)';
  document.body.appendChild(d);
}
swatch(318, colTcf1, colTcf2);
swatch(432, colInput1, colInput2);
swatch(546, '#3fcf8e', '#5cd4a0');
txt('TCF7L2', 338, 1189, 15);
txt('Input', 452, 1189, 15);
txt('Negative (IgG)', 566, 1189, 15);
</script>
</body>
</html>
